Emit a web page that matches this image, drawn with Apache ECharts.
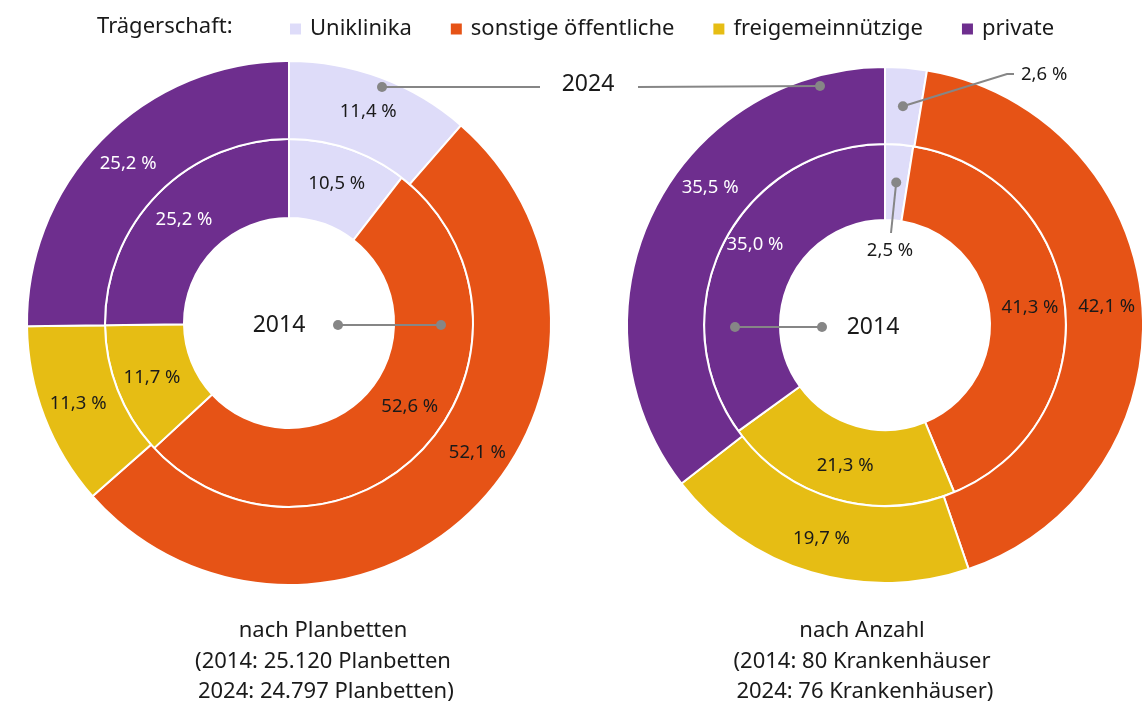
<!DOCTYPE html>
<html>
<head>
<meta charset="utf-8">
<script src="https://cdn.jsdelivr.net/npm/echarts@6/dist/echarts.min.js"></script>
<style>
  html, body { margin: 0; padding: 0; background: #fff; }
  #chart { width: 1142px; height: 709px; }
</style>
</head>
<body>
<div id="chart"></div>
<script>
const categories = ['Uniklinika', 'sonstige öffentliche', 'freigemeinnützige', 'private']
// Anteile nach Planbetten
const betten2014 = [10.5, 52.6, 11.7, 25.2]
const betten2024 = [11.4, 52.1, 11.3, 25.2]
// Anteile nach Anzahl Krankenhäuser
const haus2014 = [2.5, 41.3, 21.3, 35.0]
const haus2024 = [2.6, 42.1, 19.7, 35.5]

const colors = ['#dedcf9', '#e65316', '#e6bd14', '#6e2e8e']
const FONT = 'Noto Sans'

const leftCenter = [289, 323]
const rightCenter = [885, 325]
const holeR = 105

const fmt = (v) => v.toFixed(1).replace('.', ',') + ' %'

// Mittelpunkt eines Segments (für Leaderlinien)
const segMid = (center, r0, r1, values, idx) => {
  let start = 0
  for (let i = 0; i < idx; i++) start += values[i]
  const total = values.reduce((a, b) => a + b, 0)
  const ang = ((start + values[idx] / 2) / total) * Math.PI * 2
  const r = (r0 + r1) / 2
  return [center[0] + r * Math.sin(ang), center[1] - r * Math.cos(ang)]
}

const makeData = (values) =>
  values.map((v, i) => ({
    name: categories[i],
    value: v,
    label: { color: i === 3 ? '#ffffff' : '#1a1a1a' }
  }))

const ring = (name, center, radius, values, layout) => ({
  name: name,
  type: 'pie',
  center: center,
  radius: radius,
  startAngle: 90,
  clockwise: true,
  avoidLabelOverlap: false,
  silent: true,
  itemStyle: { borderColor: '#fff', borderWidth: 2 },
  label: {
    show: true,
    position: 'inside',
    fontFamily: FONT,
    fontSize: 18.5,
    formatter: (p) => fmt(p.value)
  },
  labelLine: { show: false },
  labelLayout: layout,
  data: makeData(values)
})

const dot = (p) => ({
  type: 'circle',
  z: 100,
  shape: { cx: p[0], cy: p[1], r: 5 },
  style: { fill: '#868686' }
})
const line = (pts) => ({
  type: 'polyline',
  z: 100,
  shape: { points: pts },
  style: { stroke: '#868686', lineWidth: 2, fill: null }
})
const txt = (x, y, text, size, align) => ({
  type: 'text',
  z: 100,
  x: x,
  y: y,
  style: {
    text: text,
    fontFamily: FONT,
    fontSize: size,
    fill: '#1a1a1a',
    align: align || 'center',
    verticalAlign: 'middle',
    lineHeight: 30
  }
})

const dotHaus2024 = segMid(rightCenter, 181, 258, haus2024, 0)
const dotHaus2014 = segMid(rightCenter, holeR, 181, haus2014, 0)

const chart = echarts.init(document.getElementById('chart'))
chart.setOption({
  animation: false,
  color: colors,
  legend: {
    data: categories,
    left: 283,
    top: 13,
    icon: 'rect',
    itemWidth: 13,
    itemHeight: 13,
    itemGap: 37,
    selectedMode: false,
    textStyle: { fontFamily: FONT, fontSize: 22, color: '#1a1a1a', padding: [0, 0, 0, 3] }
  },
  graphic: [
    txt(97, 27, 'Trägerschaft:', 22, 'left'),
    // Planbetten
    txt(279, 325, '2014', 23),
    line([[338, 325], [441, 325]]),
    dot([338, 325]),
    dot([441, 325]),
    txt(588, 84, '2024', 23),
    line([[382, 87], [540, 87]]),
    dot([382, 87]),
    line([[638, 87], [820, 86]]),
    dot([820, 86]),
    // Anzahl
    txt(873, 327, '2014', 23),
    line([[822, 327], [735, 327]]),
    dot([822, 327]),
    dot([735, 327]),
    line([dotHaus2024, [1007, 74], [1014, 74]]),
    dot(dotHaus2024),
    line([dotHaus2014, [891, 233]]),
    dot(dotHaus2014),
    // Untertitel
    txt(323, 631, 'nach Planbetten', 22),
    txt(323, 662, '(2014: 25.120 Planbetten', 22),
    txt(323, 692, ' 2024: 24.797 Planbetten)', 22),
    txt(862, 631, 'nach Anzahl', 22),
    txt(862, 662, '(2014: 80 Krankenhäuser', 22),
    txt(862, 692, ' 2024: 76 Krankenhäuser)', 22)
  ],
  series: [
    ring('Planbetten 2014', leftCenter, [holeR, 184], betten2014, (p) => {
      if (p.dataIndex === 1) return { dx: 12, dy: -16 }
    }),
    ring('Planbetten 2024', leftCenter, [184, 262], betten2024, (p) => {
      if (p.dataIndex === 1) return { dx: 28, dy: -30 }
    }),
    ring('Anzahl 2014', rightCenter, [holeR, 181], haus2014, (p) => {
      if (p.dataIndex === 0) return { x: 890, y: 251, align: 'center', verticalAlign: 'middle' }
      if (p.dataIndex === 3) return { dy: -14 }
    }),
    ring('Anzahl 2024', rightCenter, [181, 258], haus2024, (p) => {
      if (p.dataIndex === 0) return { x: 1021, y: 75, align: 'left', verticalAlign: 'middle' }
      if (p.dataIndex === 3) return { dx: 25, dy: -40 }
    })
  ]
})
</script>
</body>
</html>
